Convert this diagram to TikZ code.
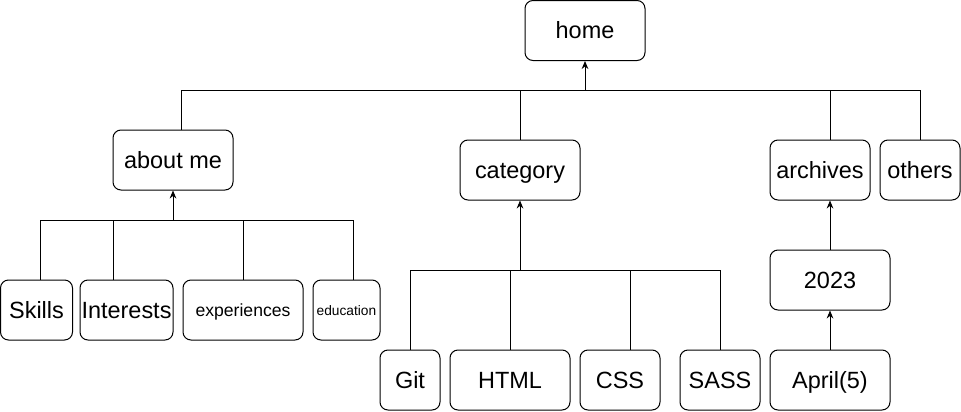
\documentclass[tikz,border=0pt]{standalone}
\usepackage{fontspec}
\setmainfont{Liberation Sans}
\usetikzlibrary{arrows.meta}
\begin{document}
\begin{tikzpicture}[x=0.75pt,y=-0.75pt,
  box/.style={draw=black, line width=0.75pt, rounded corners=6pt, minimum height=45pt, inner sep=0pt, text height=12.4pt, text depth=0pt, font=\fontsize{17.6}{20}\selectfont, text=black},
  mid/.style={font=\fontsize{13.2}{15}\selectfont, text height=9.6pt},
  tiny/.style={font=\fontsize{10.3}{12}\selectfont, text height=7.6pt},
  conn/.style={draw=black, line width=0.75pt},
  arr/.style={conn, -{Stealth[length=6pt,width=5pt]}}]
\useasboundingbox[fill=white] (0,0) rectangle (961,411);
% nodes
\node[box, minimum width=90pt] (home) at (585,30.5) {home};
\node[box, minimum width=90pt] (aboutme) at (173,160) {about me};
\node[box, minimum width=90pt] (category) at (520,170) {category};
\node[box, minimum width=75pt] (archives) at (820,170) {archives};
\node[box, minimum width=60pt] (others) at (920,170) {others};
\node[box, minimum width=90pt] (y2023) at (830,280) {2023};
\node[box, minimum width=90pt] (april) at (830,380) {April(5)};
\node[box, minimum width=54pt] (skills) at (36.5,310) {Skills};
\node[box, minimum width=69.75pt] (interests) at (126.5,310) {Interests};
\node[box, mid, minimum width=90pt] (experiences) at (243,310) {experiences};
\node[box, tiny, minimum width=50.25pt] (education) at (346.5,310) {education};
\node[box, minimum width=45pt] (git) at (410,380) {Git};
\node[box, minimum width=90pt] (html) at (510,380) {HTML};
\node[box, minimum width=60pt] (css) at (620,380) {CSS};
\node[box, minimum width=60pt] (sass) at (720,380) {SASS};
% home bus
\coordinate (hb) at (585,90);
\coordinate (h1) at (181,90);
\coordinate (h2) at (520,90);
\coordinate (h3) at (830,90);
\coordinate (h4) at (920,90);
\draw[conn] (h1) -- (h4);
\draw[arr] (hb) -- (hb |- home.south);
\draw[conn] (h1) -- (h1 |- aboutme.north);
\draw[conn] (h2) -- (h2 |- category.north);
\draw[conn] (h3) -- (h3 |- archives.north);
\draw[conn] (h4) -- (h4 |- others.north);
% about me bus
\coordinate (ab) at (173,220);
\coordinate (a1) at (40,220);
\coordinate (a2) at (113,220);
\coordinate (a3) at (243,220);
\coordinate (a4) at (353,220);
\draw[conn] (a1) -- (a4);
\draw[arr] (ab) -- (aboutme.south);
\draw[conn] (a1) -- (a1 |- skills.north);
\draw[conn] (a2) -- (a2 |- interests.north);
\draw[conn] (a3) -- (a3 |- experiences.north);
\draw[conn] (a4) -- (a4 |- education.north);
% category bus
\coordinate (cb) at (520,270);
\coordinate (c1) at (410,270);
\coordinate (c2) at (510,270);
\coordinate (c3) at (630,270);
\coordinate (c4) at (720,270);
\draw[conn] (c1) -- (c4);
\draw[arr] (cb) -- (category.south);
\draw[conn] (c1) -- (c1 |- git.north);
\draw[conn] (c2) -- (c2 |- html.north);
\draw[conn] (c3) -- (c3 |- css.north);
\draw[conn] (c4) -- (c4 |- sass.north);
% archives chain
\draw[arr] (y2023.north) -- (y2023.north |- archives.south);
\draw[arr] (april.north) -- (y2023.south);
\end{tikzpicture}
\end{document}
